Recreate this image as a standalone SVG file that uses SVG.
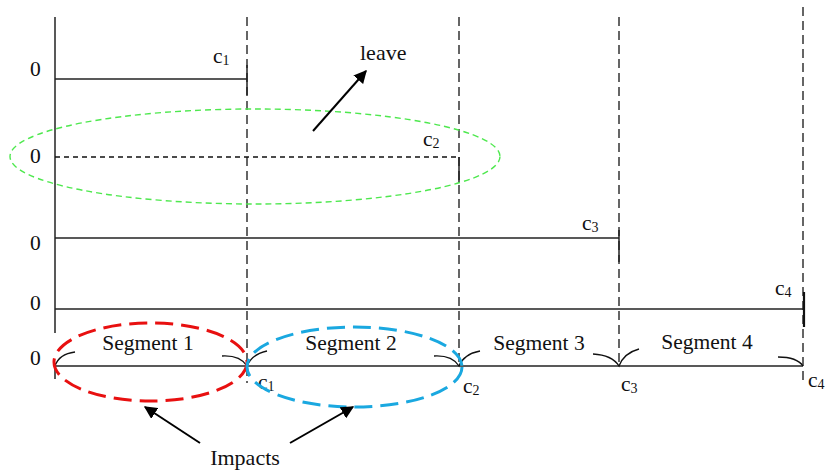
<svg xmlns="http://www.w3.org/2000/svg" width="826" height="471" viewBox="0 0 826 471">
<style>
text{font-family:"Liberation Serif","Times New Roman",serif;font-size:21.5px;fill:#111}
.sub{font-size:14px}
.big{font-size:22px}
.ax{stroke:#222;stroke-width:1.5;fill:none}
.vd{stroke:#333;stroke-width:1.5;stroke-dasharray:9,5;fill:none}
.arc{stroke:#111;stroke-width:1.3;fill:none}
.arr{stroke:#000;stroke-width:2;fill:none}
</style>
<defs>
<marker id="ah" viewBox="0 0 10 10" refX="9" refY="5" markerWidth="6.5" markerHeight="6.5" orient="auto" markerUnits="strokeWidth">
<path d="M0,0 L10,5 L0,10 z" fill="#000"/>
</marker>
</defs>
<rect width="826" height="471" fill="#fff"/>
<g id="grid">
<line class="ax" x1="55" y1="17" x2="55" y2="333"/>
<line class="ax" x1="55" y1="363" x2="55" y2="379"/>
<line class="vd" x1="247" y1="17" x2="247" y2="383"/>
<line class="vd" x1="459" y1="17" x2="459" y2="367"/>
<line class="vd" x1="619" y1="17" x2="619" y2="367"/>
<line class="vd" x1="803" y1="7" x2="803" y2="383"/>
</g>
<g id="row1">
<text x="30" y="76">0</text>
<line class="ax" x1="55" y1="79" x2="247" y2="79"/>
<line class="ax" x1="247" y1="65" x2="247" y2="95"/>
<text x="213" y="63">c<tspan class="sub" dy="2">1</tspan></text>
</g>
<g id="row2">
<text x="30" y="163">0</text>
<line x1="55" y1="157" x2="459" y2="157" stroke="#111" stroke-width="1.5" stroke-dasharray="5,4"/>
<line class="ax" x1="459" y1="157" x2="459" y2="183"/>
<text x="423" y="146">c<tspan class="sub" dy="2">2</tspan></text>
</g>
<g id="row3">
<text x="30" y="250">0</text>
<line class="ax" x1="55" y1="238" x2="619" y2="238"/>
<line class="ax" x1="619" y1="230" x2="619" y2="262"/>
<text x="582" y="230">c<tspan class="sub" dy="2">3</tspan></text>
</g>
<g id="row4">
<text x="30" y="310">0</text>
<line class="ax" x1="55" y1="309" x2="804" y2="309"/>
<line x1="804" y1="292" x2="804" y2="327" stroke="#111" stroke-width="2.2"/>
<text x="775" y="295">c<tspan class="sub" dy="2">4</tspan></text>
</g>
<g id="row5">
<text x="30" y="365">0</text>
<line class="ax" x1="55" y1="366" x2="803" y2="366"/>
<text x="258" y="389">c<tspan class="sub" dy="2">1</tspan></text>
<text x="463" y="393">c<tspan class="sub" dy="2">2</tspan></text>
<text x="621" y="391">c<tspan class="sub" dy="2">3</tspan></text>
<text x="808" y="387">c<tspan class="sub" dy="2">4</tspan></text>
<text x="148" y="350" text-anchor="middle">Segment 1</text>
<text x="351" y="350" text-anchor="middle">Segment 2</text>
<text x="539" y="350" text-anchor="middle">Segment 3</text>
<text x="707" y="349" text-anchor="middle">Segment 4</text>
</g>
<g id="braces">
<path class="arc" d="M55,366 Q59,354 75,352"/>
<path class="arc" d="M222,356 Q240,355 247,366 Q252,354 267,351"/>
<path class="arc" d="M434,356 Q452,355 459,366 Q464,354 480,351"/>
<path class="arc" d="M593,354 Q612,355 619,366 Q624,353 639,349"/>
<path class="arc" d="M778,357 Q797,357 803,366"/>
</g>
<g id="ellipses">
<ellipse cx="255" cy="156.5" rx="245" ry="47.5" fill="none" stroke="#4ee84e" stroke-width="1.4" stroke-dasharray="6,4"/>
<ellipse cx="150.5" cy="362" rx="96.5" ry="39" fill="none" stroke="#e81010" stroke-width="3" stroke-dasharray="18,8"/>
<ellipse cx="354.5" cy="367" rx="107.5" ry="40" fill="none" stroke="#1aa8e0" stroke-width="3" stroke-dasharray="18,8"/>
</g>
<g id="connectors">
<line class="arr" x1="313" y1="131" x2="366" y2="71" marker-end="url(#ah)"/>
<line class="arr" x1="200" y1="443" x2="145" y2="407" marker-end="url(#ah)"/>
<line class="arr" x1="290" y1="443" x2="353" y2="407" marker-end="url(#ah)"/>
</g>
<g id="labels">
<text class="big" x="360" y="60">leave</text>
<text class="big" x="245" y="465" text-anchor="middle">Impacts</text>
</g>
</svg>
